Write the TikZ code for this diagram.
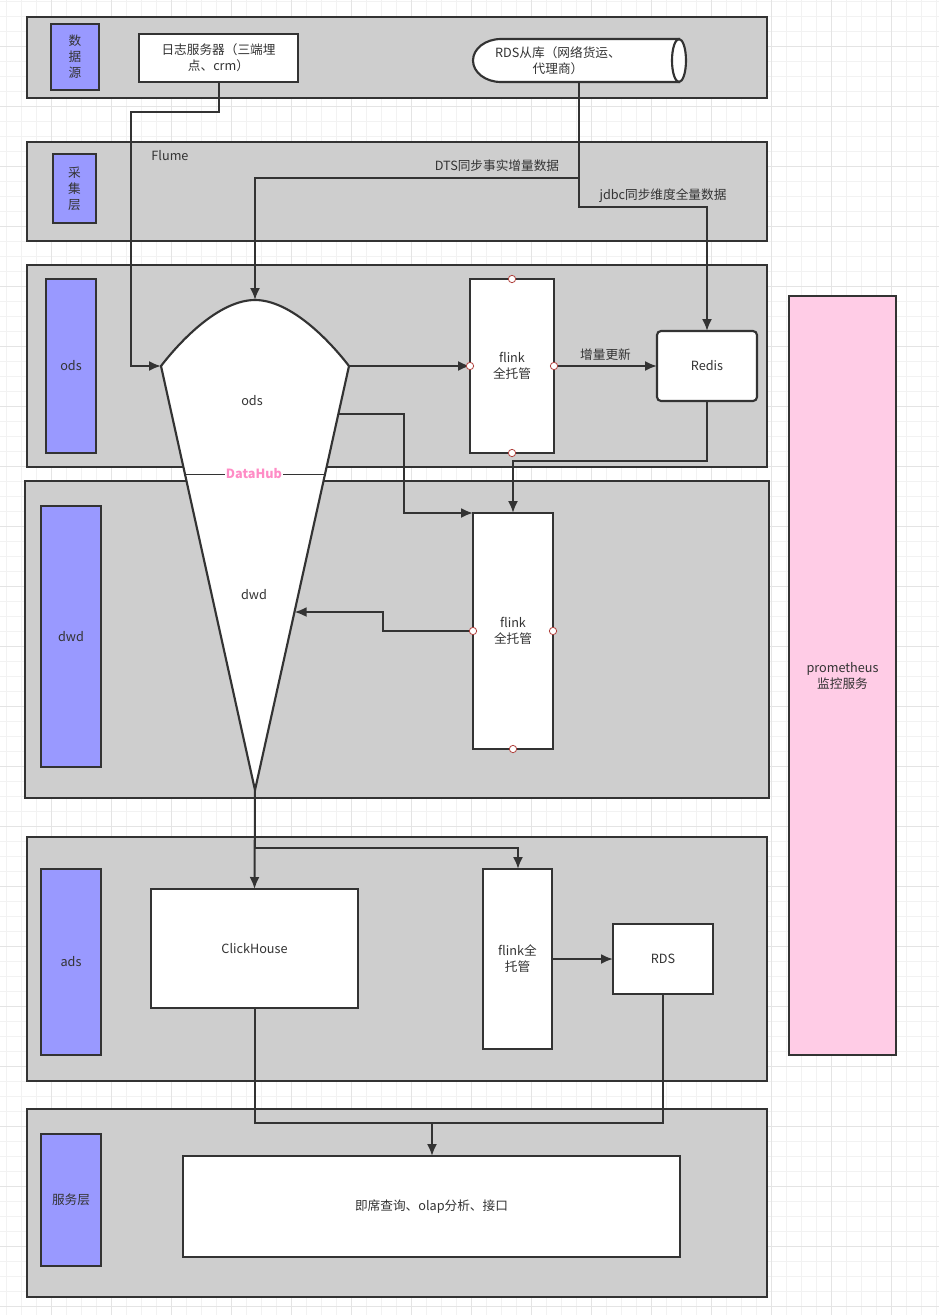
\documentclass[tikz,border=0pt]{standalone}
\usepackage{fontspec}
\setmainfont{Noto Sans CJK SC}
\usepackage{tikz}
\usetikzlibrary{arrows.meta}
\definecolor{trait}{HTML}{333333}
\definecolor{fondcouche}{HTML}{CECECE}
\definecolor{violet}{HTML}{9999FF}
\definecolor{rose}{HTML}{FFCCE6}
\definecolor{rosevif}{HTML}{FF8CC6}
\definecolor{grillefine}{HTML}{F2F2F2}
\definecolor{grilleforte}{HTML}{E4E4E4}
\definecolor{poignee}{HTML}{B0403C}

\begin{document}
\begin{tikzpicture}[x=0.75pt,y=-0.75pt,
        dim/.style 2 args={minimum width=#1*0.75pt,minimum height=#2*0.75pt}]
            % Styles
            \tikzstyle{base}=[inner sep=0pt,outer sep=0pt,text=trait,font=\fontsize{9.5}{12}\selectfont,align=center]
            \tikzstyle{couche}=[base,draw=trait,line width=1.6pt,fill=fondcouche]
            \tikzstyle{etiquette}=[base,draw=trait,line width=1.6pt,fill=violet]
            \tikzstyle{boite}=[base,draw=trait,line width=1.6pt,fill=white]
            \tikzstyle{texte}=[base]
            \tikzstyle{fleche}=[-{Latex[length=9pt,width=7.5pt]},draw=trait,line width=1.5pt]
            \tikzstyle{liaison}=[draw=trait,line width=1.5pt]
            \tikzstyle{poignee}=[circle,draw=poignee,fill=white,line width=0.6pt,inner sep=0pt,minimum size=5.5pt]
            % Grille de fond
            \useasboundingbox (0,0) rectangle (939,1315);
            \fill[white] (0,0) rectangle (939,1315);
            \foreach \x in {6,21,...,936} \draw[grillefine,line width=0.75pt] (\x,0) -- (\x,1315);
            \foreach \y in {1,16,...,1306} \draw[grillefine,line width=0.75pt] (0,\y) -- (939,\y);
            \foreach \x in {51,111,...,891} \draw[grilleforte,line width=0.75pt] (\x,0) -- (\x,1315);
            \foreach \y in {46,106,...,1306} \draw[grilleforte,line width=0.75pt] (0,\y) -- (939,\y);
            % Couches
            \node[couche,dim={740}{81}] (coucheSource) at (397,57.5) {};
            \node[couche,dim={740}{99}] (coucheCollecte) at (397,191.5) {};
            \node[couche,dim={740}{202}] (coucheOds) at (397,366) {};
            \node[couche,dim={744}{317}] (coucheDwd) at (397,639.5) {};
            \node[couche,dim={740}{244}] (coucheAds) at (397,959) {};
            \node[couche,dim={740}{188}] (coucheService) at (397,1203) {};
            % Etiquettes des couches
            \node[etiquette,dim={48}{66}] (etqSource) at (75,57) {数\\据\\源};
            \node[etiquette,dim={43}{69}] (etqCollecte) at (74.5,188.5) {采\\集\\层};
            \node[etiquette,dim={50}{174}] (etqOds) at (71,366) {ods};
            \node[etiquette,dim={60}{261}] (etqDwd) at (71,636.5) {dwd};
            \node[etiquette,dim={60}{186}] (etqAds) at (71,962) {ads};
            \node[etiquette,dim={60}{132}] (etqService) at (71,1200) {服务层};
            % Sources
            \node[boite,dim={159}{48}] (journal) at (218.5,58) {日志服务器（三端埋\\点、crm）};
            \filldraw[fill=white,draw=trait,line width=1.6pt] (501,39) -- (679,39) -- (679,82) -- (501,82)
                .. controls (485.5,82) and (473,72.4) .. (473,60.5)
                .. controls (473,48.6) and (485.5,39) .. (501,39) -- cycle;
            \filldraw[fill=white,draw=trait,line width=1.6pt] (679,60.5) ellipse [x radius=5.25pt,y radius=16.1pt];
            \node[texte] (rdsmaitre) at (558,60.5) {RDS从库（网络货运、\\代理商）};
            \coordinate (rdsBas) at (579,82);
            % Entonnoir DataHub
            \coordinate (odsG) at (161,366);
            \coordinate (odsD) at (349,366);
            \coordinate (odsH) at (255,300);
            \coordinate (pointe) at (255,790);
            \coordinate (odsFlanc) at (338.6,414);
            \coordinate (dwdFlanc) at (294.6,612);
            \filldraw[fill=white,draw=trait,line width=1.6pt,line join=round] (odsG)
                .. controls (185,335) and (222,300) .. (odsH)
                .. controls (288,300) and (325,335) .. (odsD) -- (pointe) -- cycle;
            \draw[trait,line width=0.6pt] (185,474) -- (325,474);
            \node[texte] (ods) at (252,401) {ods};
            \node[texte,fill=white,text=rosevif,font=\fontsize{9.5}{12}\selectfont\bfseries,inner xsep=1pt] (datahub) at (254,474) {DataHub};
            \node[texte] (dwd) at (254,595) {dwd};
            % Traitements
            \node[boite,dim={84}{174}] (flinkA) at (512,366) {flink\\全托管};
            \node[boite,dim={100}{70},rounded corners=3pt] (redis) at (707,366) {Redis};
            \node[boite,dim={80}{236}] (flinkB) at (513,631) {flink\\全托管};
            \node[boite,dim={207}{119}] (clickhouse) at (254.5,948.5) {ClickHouse};
            \node[boite,dim={69}{180}] (flinkC) at (517.5,959) {flink全\\托管};
            \node[boite,dim={100}{70}] (rds) at (663,959) {RDS};
            \node[boite,dim={497}{101}] (service) at (431.5,1206.5) {即席查询、olap分析、接口};
            \node[base,draw=trait,line width=1.6pt,fill=rose,dim={107}{759}] (prometheus) at (842.5,675.5) {prometheus\\监控服务};
            % Textes libres
            \node[texte] (flume) at (170,156) {Flume};
            \node[texte] (dts) at (497,166) {DTS同步事实增量数据};
            \node[texte] (jdbc) at (663,196) {jdbc同步维度全量数据};
            % Arcs
            \draw[fleche] (journal.south) |- (131,112) |- (odsG);
            \draw[fleche] (rdsBas) |- (255,178) -- (odsH);
            \draw[fleche] (rdsBas) |- (707,207) -- (redis.north);
            \draw[fleche] (odsD) -- (flinkA.west);
            \draw[fleche] (flinkA.east) -- (redis.west) node[texte,midway,above=4pt] {增量更新};
            \draw[fleche] (odsFlanc) -| (404,513) -- (flinkB.north west);
            \draw[fleche] (redis.south) |- (513,461) -- (flinkB.north);
            \draw[fleche] (flinkB.west) -| (383,612) -- (dwdFlanc);
            \draw[fleche] (pointe) -- (clickhouse.north);
            \draw[fleche] (pointe) |- (518,848) -- (flinkC.north -| 518,0);
            \draw[fleche] (flinkC.east) -- (rds.west);
            \draw[fleche] (clickhouse.south) |- (432,1123) -- (service.north -| 432,0);
            \draw[liaison] (rds.south) |- (432,1123);
            % Points de connexion
            \foreach \a in {north,west,east,south} \node[poignee] at (flinkA.\a) {};
            \foreach \a in {west,east,south} \node[poignee] at (flinkB.\a) {};
        \end{tikzpicture}
\end{document}
